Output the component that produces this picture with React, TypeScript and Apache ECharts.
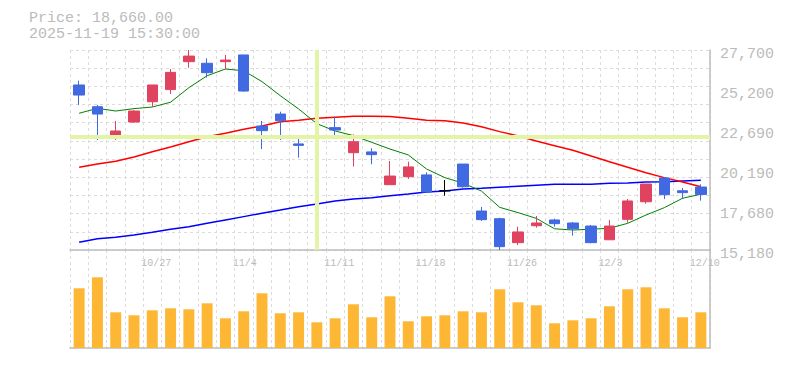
import React, { useEffect, useRef } from "react";
import * as echarts from "echarts";

// ---- data ----
const DATES = [
  "10/21", "10/22", "10/23", "10/24", "10/27", "10/28", "10/29", "10/30", "10/31", "11/4",
  "11/5", "11/6", "11/7", "11/10", "11/11", "11/12", "11/13", "11/14", "11/17", "11/18",
  "11/19", "11/20", "11/21", "11/25", "11/26", "11/27", "11/28", "12/1", "12/2", "12/3",
  "12/4", "12/5", "12/8", "12/9", "12/10",
];
const OPEN = [
  25510, 24150, 22380, 23190, 24460, 25220, 26970, 26870, 26970, 27390,
  22940, 23690, 21820, 22210, 22840, 21270, 21320, 19270, 19770, 19880,
  18890, 20560, 17620, 17140, 15640, 16700, 17060, 16870, 16680, 15820,
  17100, 18200, 19690, 18890, 19120,
];
const CLOSE = [
  24880, 23690, 22630, 23880, 25510, 26300, 27320, 26280, 27070, 25130,
  22650, 23270, 21730, 22340, 22690, 21960, 21150, 19810, 20380, 18810,
  18890, 19140, 17080, 15390, 16310, 16870, 16830, 16510, 15640, 16680,
  18250, 19310, 18640, 18770, 18660,
];
const LOW = [
  24260, 22070, 22070, 23130, 24150, 24950, 26590, 25970, 26490, 25090,
  21500, 22070, 20960, 21500, 22210, 20400, 20550, 19270, 19630, 18810,
  18580, 19080, 17000, 15180, 15490, 16580, 16640, 16080, 15600, 15820,
  16890, 18080, 18370, 18370, 18270,
];
const HIGH = [
  25780, 24260, 23260, 23940, 25510, 26510, 27700, 27180, 27390, 27390,
  23260, 23840, 22130, 22490, 23530, 22420, 21550, 20750, 20710, 20040,
  19560, 20560, 17870, 17200, 16640, 17310, 17140, 16930, 16750, 17060,
  18370, 19310, 19750, 19060, 19290,
];
const MA5 = [
  23740, 24050, 23880, 24030, 24130, 24430, 25340, 26090, 26510, 26400,
  25720, 24840, 24010, 23090, 22630, 22340, 21920, 21500, 21130, 20250,
  19710, 19360, 18870, 17850, 17520, 17160, 16510, 16430, 16480, 16540,
  16850, 17370, 17830, 18420, 18670,
];
const MA25 = [
  20360, 20560, 20730, 21000, 21330, 21630, 21960, 22270, 22490, 22740,
  22940, 23210, 23300, 23420, 23490, 23550, 23550, 23530, 23420, 23300,
  23270, 23130, 22900, 22590, 22320, 22000, 21710, 21420, 21060, 20710,
  20360, 20020, 19710, 19440, 19140,
];
const MA75 = [
  15660, 15890, 15980, 16120, 16290, 16480, 16640, 16850, 17060, 17270,
  17480, 17680, 17890, 18060, 18250, 18370, 18450, 18580, 18690, 18810,
  18870, 19000, 19040, 19110, 19170, 19230, 19290, 19290, 19290, 19360,
  19370, 19440, 19460, 19500, 19540,
];
// volume, thousand shares
const VOLUME = [
  5970, 7070, 3570, 3270, 3770, 3970, 3870, 4470, 2970, 3670,
  5470, 3470, 3570, 2570, 2970, 4370, 3070, 5170, 2670, 3170,
  3270, 3670, 3570, 5870, 4570, 4270, 2470, 2770, 2970, 4170,
  5870, 6070, 3970, 3070, 3570,
];
const Y_TICK_LABELS = ["15,180", "17,680", "20,190", "22,690", "25,200", "27,700"];
const PRICE_MIN = 15180;
const PRICE_MAX = 27700;
const VOLUME_MAX = 9800;
const HEADER_PRICE = "18,660.00";
const HEADER_DATE = "2025-11-19 15:30:00";
const CROSS_DATE = "11/10";
const CROSS_PRICE = 22300;

const FONT = "'Liberation Mono', 'DejaVu Sans Mono', monospace";
const UP = "#e0435f";
const DOWN = "#4169e1";
const GRID_COLOR = "#dcdcdc";
const AXIS_COLOR = "#bdbdbd";
const LABEL_COLOR = "#bbbbbb";

export default function App() {
  const ref = useRef<HTMLDivElement>(null);

  useEffect(() => {
    if (!ref.current) return;
    const chart = echarts.init(ref.current, undefined, { renderer: "svg" });

    const candleData = DATES.map((_, i) => {
      const item: any = { value: [OPEN[i], CLOSE[i], LOW[i], HIGH[i]] };
      if (OPEN[i] === CLOSE[i]) {
        item.itemStyle = { color: "#000", color0: "#000", borderColor: "#000", borderColor0: "#000" };
      }
      return item;
    });

    const dashed = { color: GRID_COLOR, width: 1, type: [3, 3] as any };
    const headerStyle = {
      fontFamily: FONT,
      fontSize: 15,
      fontWeight: "normal",
      color: LABEL_COLOR,
      lineHeight: 15,
    };

    chart.setOption({
      animation: false,
      title: [
        { text: `Price: ${HEADER_PRICE}`, left: 29, top: 11, padding: 0, textStyle: headerStyle },
        { text: HEADER_DATE, left: 29, top: 27, padding: 0, textStyle: headerStyle },
      ],
      grid: [
        { left: 70, right: 75, top: 50, height: 200 },
        { left: 70, right: 75, top: 250, height: 98 },
      ],
      xAxis: [
        {
          type: "category",
          gridIndex: 0,
          data: DATES,
          boundaryGap: true,
          axisLine: { show: true, lineStyle: { color: AXIS_COLOR, width: 1.5 } },
          axisTick: { show: false },
          splitLine: { show: true, interval: 0, lineStyle: dashed },
          axisLabel: {
            interval: (i: number) => i % 5 === 4,
            margin: 8,
            formatter: (v: string) => `{d|${v}}`,
            rich: {
              d: {
                width: 22,
                align: "left",
                fontFamily: FONT,
                fontSize: 10,
                color: LABEL_COLOR,
              },
            },
          },
        },
        {
          type: "category",
          gridIndex: 1,
          data: DATES,
          boundaryGap: true,
          offset: 2,
          axisLine: { show: true, lineStyle: { color: AXIS_COLOR, width: 1.5 } },
          axisTick: { show: false },
          axisLabel: { show: false },
          splitLine: { show: true, interval: 0, lineStyle: dashed },
        },
      ],
      yAxis: [
        {
          // price scale for the marks
          type: "value",
          gridIndex: 0,
          min: PRICE_MIN,
          max: PRICE_MAX,
          position: "right",
          axisLine: { show: false },
          axisTick: { show: false },
          axisLabel: { show: false },
          splitLine: { show: false },
        },
        {
          // labelled ticks
          type: "value",
          gridIndex: 0,
          min: 0,
          max: Y_TICK_LABELS.length - 1,
          interval: 1,
          position: "right",
          axisLine: { show: true, lineStyle: { color: AXIS_COLOR, width: 1.5 } },
          axisTick: { show: false },
          splitLine: { show: false },
          axisLabel: {
            margin: 10,
            formatter: (v: number) => `{t|${Y_TICK_LABELS[Math.round(v)] ?? ""}}`,
            rich: {
              t: {
                fontFamily: FONT,
                fontSize: 15,
                color: LABEL_COLOR,
                padding: [8, 0, 0, 0],
              },
            },
          },
        },
        {
          // dashed grid rows
          type: "value",
          gridIndex: 0,
          min: 0,
          max: 11,
          interval: 1,
          position: "left",
          axisLine: { show: false },
          axisTick: { show: false },
          axisLabel: { show: false },
          splitLine: { show: true, lineStyle: dashed },
        },
        {
          type: "value",
          gridIndex: 1,
          min: 0,
          max: VOLUME_MAX,
          position: "right",
          axisLine: { show: true, lineStyle: { color: AXIS_COLOR, width: 1.5 } },
          axisTick: { show: false },
          axisLabel: { show: false },
          splitLine: { show: false },
        },
      ],
      series: [
        {
          type: "line",
          xAxisIndex: 0,
          yAxisIndex: 0,
          data: [],
          z: 1,
          silent: true,
          markLine: {
            silent: true,
            symbol: "none",
            label: { show: false },
            lineStyle: { color: "#e4f4a6", width: 4, type: "solid" },
            data: [{ xAxis: CROSS_DATE }, { yAxis: CROSS_PRICE }],
          },
        },
        {
          name: "MA75",
          type: "line",
          xAxisIndex: 0,
          yAxisIndex: 0,
          data: MA75,
          showSymbol: false,
          symbol: "none",
          z: 2,
          lineStyle: { color: "#0000ff", width: 1.5 },
        },
        {
          name: "MA25",
          type: "line",
          xAxisIndex: 0,
          yAxisIndex: 0,
          data: MA25,
          showSymbol: false,
          symbol: "none",
          z: 2,
          lineStyle: { color: "#ff0000", width: 1.5 },
        },
        {
          name: "MA5",
          type: "line",
          xAxisIndex: 0,
          yAxisIndex: 0,
          data: MA5,
          showSymbol: false,
          symbol: "none",
          z: 2,
          lineStyle: { color: "#008000", width: 1 },
        },
        {
          type: "candlestick",
          xAxisIndex: 0,
          yAxisIndex: 0,
          data: candleData,
          barWidth: "60%",
          z: 3,
          itemStyle: {
            color: UP,
            color0: DOWN,
            borderColor: UP,
            borderColor0: DOWN,
            borderWidth: 1,
          },
        },
        {
          type: "bar",
          xAxisIndex: 1,
          yAxisIndex: 3,
          data: VOLUME,
          barWidth: "60%",
          itemStyle: { color: "#fdb735" },
        },
      ],
    });

    return () => chart.dispose();
  }, []);

  return (
    <div
      ref={ref}
      style={{ position: "fixed", left: 0, top: 0, width: 785, height: 370, background: "#fff" }}
    />
  );
}
